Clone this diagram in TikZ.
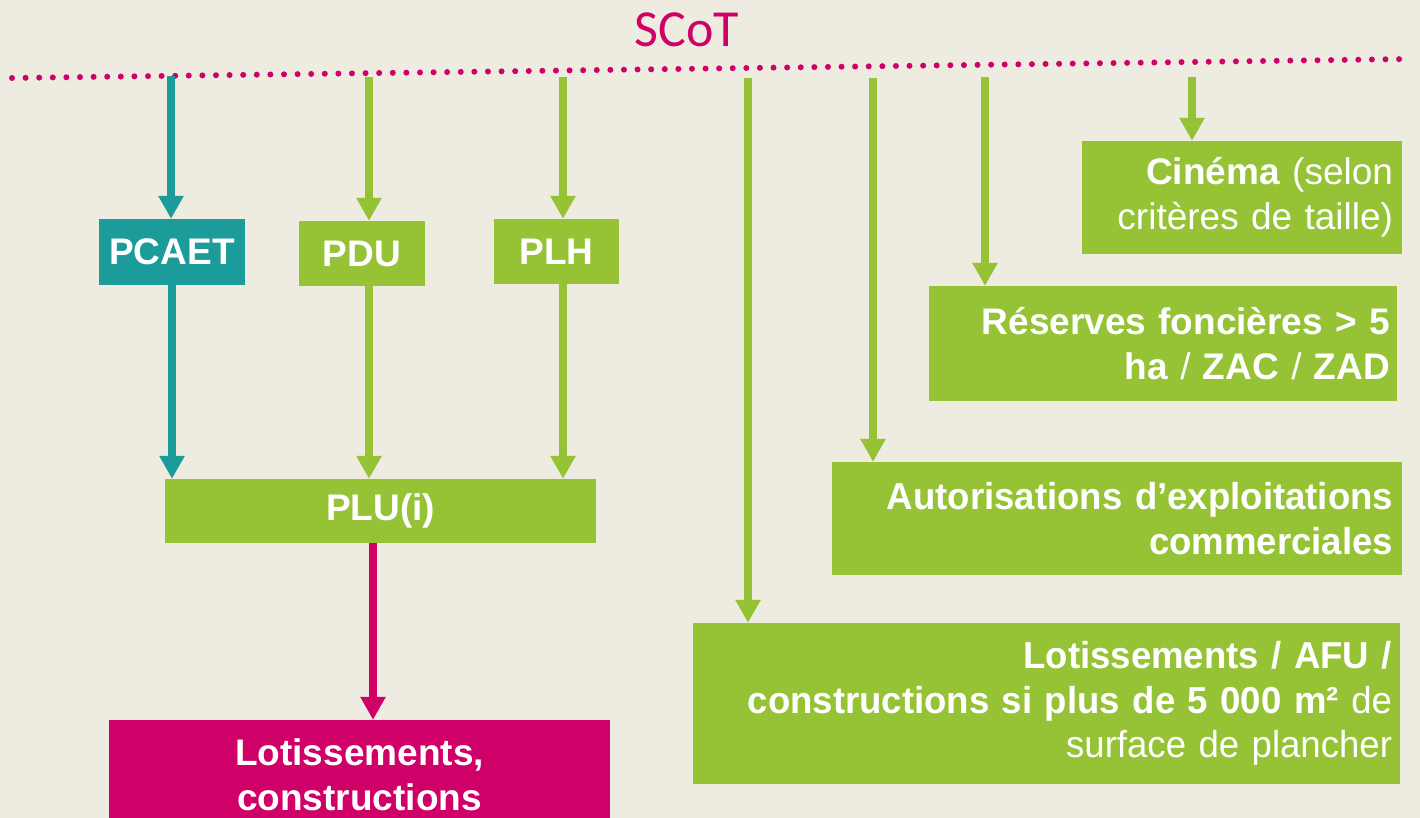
\documentclass[tikz,border=0pt]{standalone}
\usepackage{fontspec}
\setmainfont{Liberation Sans}
\newfontfamily\titlefont{Carlito}
\newfontfamily\narrowfont{Liberation Sans}[FakeStretch=0.975,WordSpace=0.8]
\usetikzlibrary{arrows.meta}
\definecolor{fond}{HTML}{EEEBE0}
\definecolor{vert}{HTML}{95C335}
\definecolor{bleu}{HTML}{1B9C9A}
\definecolor{rose}{HTML}{CF0067}
\tikzset{
  doc/.style={fill=vert, text=white, inner sep=0pt, align=center,
    font=\fontsize{37}{45}\selectfont\bfseries},
  docd/.style={doc, align=right},
  fleche/.style={line width=8pt, -{Triangle[width=24pt,length=23pt]}},
}
\begin{document}
\begin{tikzpicture}[x=1pt,y=-1pt]
\clip (0,0) rectangle (1420,818);
\fill[fond] (0,0) rectangle (1420,818);
% titre et ligne pointillee
\node[text=rose, font=\titlefont\fontsize{52}{60}\selectfont] (scot) at (687,30) {SCoT};
\draw[rose, line width=6pt, line cap=round, dash pattern=on 0pt off 13.6pt] (12,78) -- (1410,59);
% colonnes des fleches
\coordinate (cPCAET) at (171,76);
\coordinate (cPDU) at (369,77);
\coordinate (cPLH) at (563,77);
\coordinate (cLot) at (748,78);
\coordinate (cAut) at (873,78);
\coordinate (cRes) at (985,77);
\coordinate (cCin) at (1192,77);
% documents
\node[doc, fill=bleu, minimum width=146, minimum height=66] (pcaet) at (172,252) {PCAET};
\node[doc, minimum width=126, minimum height=65] (pdu) at (362,253.5) {PDU};
\node[doc, minimum width=125, minimum height=65] (plh) at (556.5,251.5) {PLH};
\node[doc, minimum width=431, minimum height=64] (plu) at (380.5,511) {PLU(i)};
\node[doc, fill=rose, minimum width=501, minimum height=110] (constr) at (359.5,775)
  {Lotissements,\\constructions};
\node[docd, minimum width=320, minimum height=113, text width=302] (cine) at (1242,197.5)
  {Cinéma \mdseries(selon\\critères de taille)};
\node[docd, minimum width=468, minimum height=115, text width=454] (reserves) at (1163,343.5)
  {Réserves foncières > 5\\ha \mdseries/ \bfseries ZAC \mdseries/ \bfseries ZAD};
\node[docd, font=\narrowfont\fontsize{37.5}{45}\selectfont\bfseries,
  minimum width=570, minimum height=113, text width=552] (autor) at (1117,518.5)
  {Autorisations d’exploitations\\commerciales};
\node[docd, font=\narrowfont\fontsize{37.5}{44.5}\selectfont\bfseries,
  minimum width=707, minimum height=161, text width=691] (lotis) at (1046.5,703.5)
  {Lotissements / AFU /\\constructions si plus de 5 000 m² \mdseries de\\surface de plancher};
% fleches
\draw[fleche, bleu] (cPCAET) -- (cPCAET |- pcaet.north);
\draw[fleche, bleu] (pcaet.south) -- (pcaet.south |- plu.north);
\draw[fleche, vert] (cPDU) -- (cPDU |- pdu.north);
\draw[fleche, vert] (cPDU |- pdu.south) -- (cPDU |- plu.north);
\draw[fleche, vert] (cPLH) -- (cPLH |- plh.north);
\draw[fleche, vert] (cPLH |- plh.south) -- (cPLH |- plu.north);
\draw[fleche, rose] (373,0 |- plu.south) -- (373,0 |- constr.north);
\draw[fleche, vert] (cLot) -- (cLot |- lotis.north);
\draw[fleche, vert] (cAut) -- (cAut |- autor.north);
\draw[fleche, vert] (cRes) -- (cRes |- reserves.north);
\draw[fleche, vert] (cCin) -- (cCin |- cine.north);
\end{tikzpicture}
\end{document}
